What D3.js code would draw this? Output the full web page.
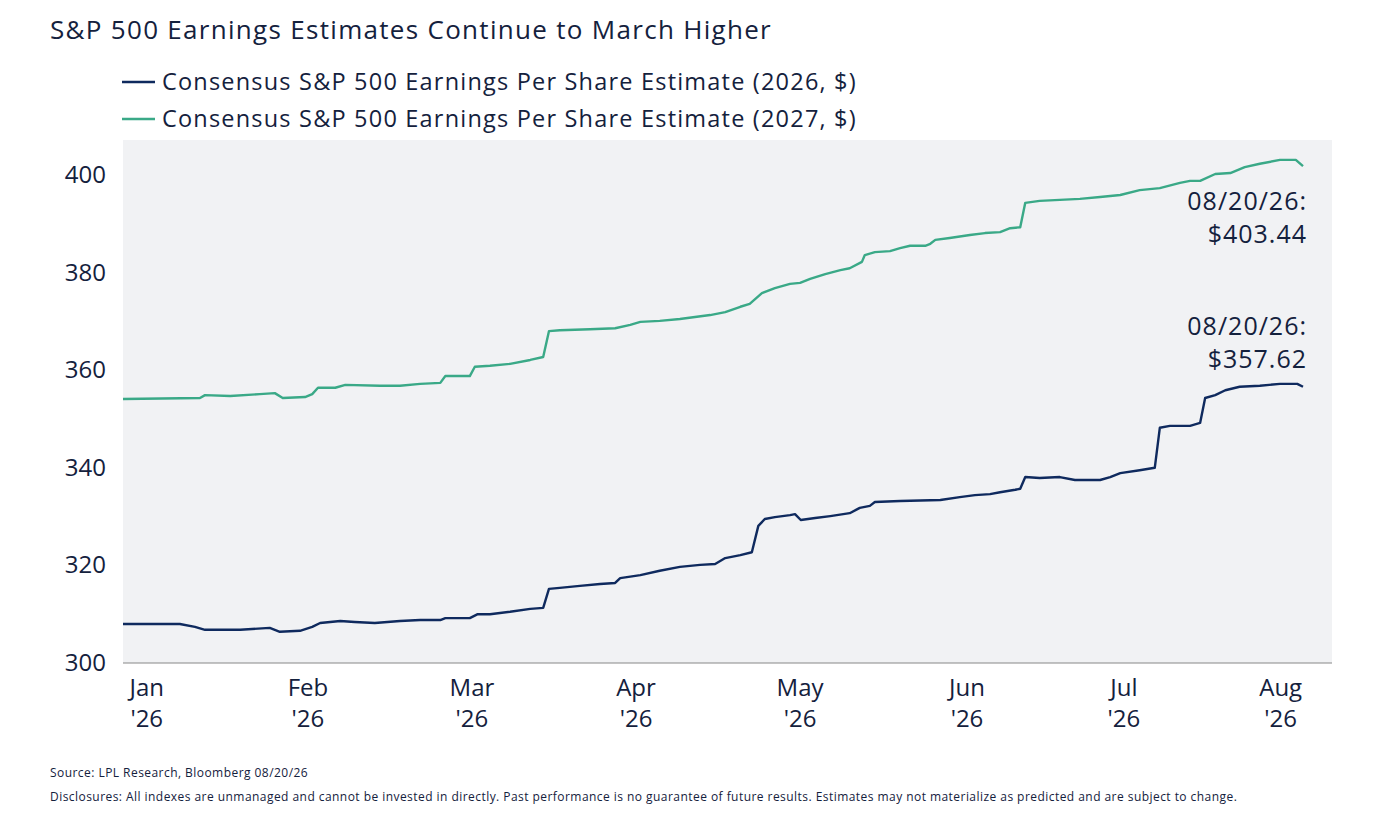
<!DOCTYPE html><html><head><meta charset="utf-8">
<script src="https://cdn.jsdelivr.net/npm/d3@7"></script>
<style>body{margin:0;background:#fff;font-family:"Open Sans","Noto Sans",sans-serif;}</style></head><body>
<svg id="c" width="1380" height="820"></svg>
<script>
// x = trading-day index from Jan 2 2026
const monthLabels=["Jan","Feb","Mar","Apr","May","Jun","Jul","Aug"];
const monthPos=[3.3,25.7,48.5,71.3,94.1,117.3,139.1,160.9];
const yTicks=[300,320,340,360,380,400];
const eps2027X=[0,10.7,11.4,14.9,19.0,21.1,22.2,25.3,26.3,27.1,29.5,30.9,35.7,38.5,41.3,44.1,44.8,48.2,48.9,51.0,53.8,56.6,58.4,59.2,60.7,64.9,68.4,70.5,71.9,74.6,77.4,81.6,83.7,85.8,87.1,88.8,90.6,92.7,94.1,95.5,97.6,99.7,101.0,102.7,103.1,104.5,106.6,108.0,109.4,111.5,112.2,112.9,114.9,117.7,119.8,121.9,123.3,124.7,125.4,127.4,130.2,133.0,135.8,138.6,141.3,144.1,146.9,148.3,149.7,151.8,153.9,155.9,158.0,160.8,163.0,164];
const eps2027=[354.1,354.3,354.9,354.7,355.1,355.3,354.3,354.5,355.1,356.4,356.4,357.0,356.8,356.8,357.2,357.4,358.8,358.8,360.7,360.9,361.3,362.1,362.7,368.0,368.2,368.4,368.6,369.3,369.9,370.1,370.5,371.3,371.9,373.0,373.6,375.8,376.8,377.7,377.9,378.7,379.7,380.5,380.9,382.2,383.6,384.2,384.4,385.0,385.5,385.5,385.9,386.7,387.1,387.7,388.1,388.3,389.1,389.3,394.3,394.7,394.9,395.1,395.5,395.9,396.9,397.3,398.4,398.8,398.8,400.2,400.4,401.6,402.3,403.1,403.1,401.8];
const eps2026X=[0,7.9,10.0,11.4,16.3,20.4,21.8,24.6,26.3,27.4,30.2,32.2,35.0,38.5,41.3,44.1,44.8,48.2,49.3,51.0,53.8,56.6,58.4,59.2,60.7,63.5,66.3,68.4,69.1,71.9,74.6,77.4,80.2,82.3,83.7,85.8,87.4,88.3,89.2,90.6,92.7,93.4,94.2,96.2,98.3,101.0,102.4,103.8,104.5,108.0,113.6,116.3,118.4,120.5,121.9,124.0,124.7,125.4,127.4,130.2,132.3,135.8,137.2,138.6,141.3,143.4,144.1,145.5,148.3,149.7,150.4,151.8,153.2,155.2,158.0,160.8,163.2,164];
const eps2026=[308.0,308.0,307.4,306.8,306.8,307.2,306.4,306.6,307.4,308.2,308.6,308.4,308.2,308.6,308.8,308.8,309.2,309.2,310.0,310.0,310.5,311.1,311.3,315.2,315.4,315.8,316.2,316.4,317.4,318.0,318.9,319.7,320.1,320.3,321.5,322.1,322.7,328.1,329.5,329.9,330.3,330.5,329.3,329.7,330.1,330.7,331.8,332.2,333.0,333.2,333.4,334.0,334.4,334.6,335.0,335.5,335.7,338.1,337.9,338.1,337.5,337.5,338.1,338.9,339.5,340.0,348.2,348.6,348.6,349.2,354.3,354.9,355.9,356.6,356.8,357.2,357.2,356.6];
const seriesNames=["Consensus S&P 500 Earnings Per Share Estimate (2026, $)","Consensus S&P 500 Earnings Per Share Estimate (2027, $)"];
const endLabels=[["08/20/26:","$357.62"],["08/20/26:","$403.44"]];
const colors=["#0f2a5e","#3aa987"];
const txt="#14213d";

const svg=d3.select("#c");
const L=123,R=1332,T=140,B=663;
const x=d3.scaleLinear().domain([0,164]).range([L,1303]);
const y=d3.scaleLinear().domain([300,400]).range([B,175]);
svg.append("rect").attr("x",L).attr("y",T).attr("width",R-L).attr("height",B-T).attr("fill","#f1f2f4");
svg.append("text").attr("x",50).attr("y",39).attr("font-size",26).attr("letter-spacing",1.3).attr("fill",txt).text("S&P 500 Earnings Estimates Continue to March Higher");
seriesNames.forEach((n,i)=>{
  const ly=82+i*37;
  svg.append("line").attr("x1",122).attr("x2",155).attr("y1",ly).attr("y2",ly).attr("stroke",colors[i]).attr("stroke-width",2.5);
  svg.append("text").attr("x",162).attr("y",ly+8).attr("font-size",23.5).attr("letter-spacing",1.2).attr("fill",txt).text(n);
});
svg.append("g").selectAll("text").data(yTicks).join("text").attr("x",106).attr("y",d=>y(d)+8)
  .attr("text-anchor","end").attr("font-size",24).attr("fill",txt).text(d=>d);
svg.append("line").attr("x1",L).attr("x2",R).attr("y1",B).attr("y2",B).attr("stroke","#888").attr("stroke-width",1.2);
const xg=svg.append("g").selectAll("text").data(monthLabels).join("text").attr("text-anchor","middle").attr("font-size",24).attr("fill",txt);
xg.append("tspan").attr("x",(d,i)=>x(monthPos[i])).attr("y",696).text(d=>d);
xg.append("tspan").attr("x",(d,i)=>x(monthPos[i])).attr("y",727).text("'26");
const line=d3.line().x(d=>x(d[0])).y(d=>y(d[1]));
[[eps2026X,eps2026],[eps2027X,eps2027]].forEach(([xs,vs],i)=>{
  svg.append("path").datum(xs.map((v,k)=>[v,vs[k]])).attr("d",line).attr("fill","none").attr("stroke",colors[i]).attr("stroke-width",2.4).attr("stroke-linejoin","round");
});
[[335,368],[210,243]].forEach((ys,i)=>{
  endLabels[i].forEach((t,k)=>svg.append("text").attr("x",1307).attr("y",ys[k]).attr("text-anchor","end").attr("font-size",25).attr("letter-spacing",1).attr("fill",txt).text(t));
});
svg.append("text").attr("x",50).attr("y",777).attr("font-size",12).attr("letter-spacing",0.45).attr("fill",txt).text("Source: LPL Research, Bloomberg 08/20/26");
svg.append("text").attr("x",50).attr("y",801).attr("font-size",12).attr("letter-spacing",0.45).attr("fill",txt).text("Disclosures: All indexes are unmanaged and cannot be invested in directly. Past performance is no guarantee of future results. Estimates may not materialize as predicted and are subject to change.");
</script></body></html>
